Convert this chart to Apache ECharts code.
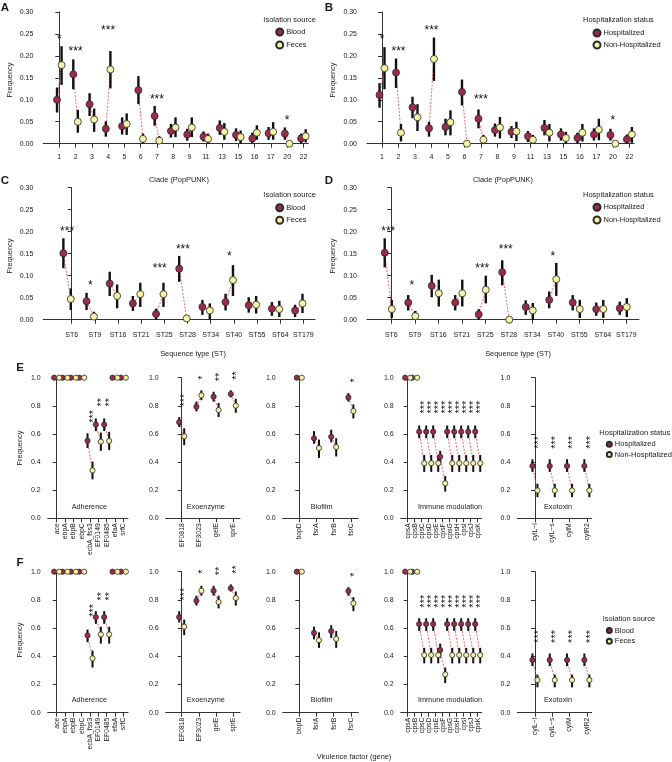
<!DOCTYPE html>
<html><head><meta charset="utf-8">
<script src="https://cdn.jsdelivr.net/npm/echarts@6/dist/echarts.min.js"></script>
<style>html,body{margin:0;padding:0;background:#fff}#c{width:672px;height:762px}</style>
</head><body><div id="c"></div>
<script>
// ---------------- DATA ----------------
const cladeLabels = ['1','2','3','4','5','6','7','8','9','11','13','15','16','17','20','22'];
const stLabels = ['ST6','ST9','ST16','ST21','ST25','ST28','ST34','ST40','ST55','ST64','ST179'];

// Panel A: clade by isolation source
const A_blood    = [0.100,0.158,0.090,0.034,0.040,0.122,0.063,0.029,0.021,0.016,0.036,0.020,0.012,0.024,0.023,0.012];
const A_blood_lo = [0.071,0.124,0.063,0.016,0.021,0.090,0.041,0.014,0.007,0.005,0.020,0.006,0.001,0.009,0.009,0.001];
const A_blood_hi = [0.128,0.192,0.115,0.051,0.060,0.154,0.086,0.045,0.034,0.028,0.053,0.035,0.025,0.038,0.037,0.023];
const A_feces    = [0.179,0.050,0.055,0.169,0.045,0.011,0.007,0.037,0.037,0.011,0.027,0.015,0.025,0.027,0.000,0.017];
const A_feces_lo = [0.134,0.025,0.027,0.126,0.020,0.000,0.000,0.015,0.015,0.000,0.009,0.000,0.009,0.009,0.000,0.003];
const A_feces_hi = [0.222,0.077,0.080,0.211,0.069,0.023,0.017,0.060,0.060,0.023,0.047,0.030,0.042,0.049,0.000,0.033];
const A_sig = ['*','***','','***','','','***','','','','','','','','*',''];

// Panel B: clade by hospitalization status
const B_hosp     = [0.111,0.162,0.083,0.035,0.038,0.118,0.057,0.031,0.027,0.017,0.036,0.021,0.013,0.021,0.020,0.010];
const B_hosp_lo  = [0.082,0.127,0.058,0.016,0.019,0.087,0.035,0.016,0.013,0.004,0.019,0.007,0.001,0.007,0.007,0.000];
const B_hosp_hi  = [0.138,0.194,0.107,0.050,0.057,0.146,0.078,0.046,0.040,0.029,0.054,0.035,0.025,0.035,0.034,0.021];
const B_non      = [0.172,0.025,0.060,0.193,0.049,0.000,0.009,0.037,0.028,0.009,0.025,0.013,0.025,0.032,0.000,0.021];
const B_non_lo   = [0.124,0.005,0.029,0.143,0.019,0.000,0.000,0.012,0.006,0.000,0.005,0.000,0.005,0.008,0.000,0.002];
const B_non_hi   = [0.220,0.045,0.090,0.242,0.076,0.000,0.020,0.061,0.050,0.020,0.045,0.027,0.045,0.057,0.000,0.038];
const B_sig = ['*','***','','***','','','***','','','','','','','','*',''];

// Panel C: ST by isolation source
const C_blood    = [0.151,0.042,0.082,0.037,0.013,0.116,0.029,0.040,0.033,0.025,0.021];
const C_blood_lo = [0.117,0.022,0.054,0.020,0.000,0.086,0.011,0.021,0.016,0.009,0.006];
const C_blood_hi = [0.185,0.061,0.109,0.054,0.025,0.145,0.045,0.059,0.051,0.040,0.034];
const C_feces    = [0.047,0.007,0.054,0.058,0.058,0.003,0.021,0.090,0.034,0.024,0.037];
const C_feces_lo = [0.022,0.000,0.026,0.029,0.029,0.003,0.000,0.054,0.014,0.006,0.015];
const C_feces_hi = [0.071,0.018,0.080,0.084,0.084,0.003,0.037,0.124,0.054,0.043,0.059];
const C_sig = ['***','*','','','***','***','','*','','',''];

// Panel D: ST by hospitalization status
const D_hosp     = [0.152,0.039,0.077,0.039,0.012,0.108,0.029,0.045,0.039,0.024,0.026];
const D_hosp_lo  = [0.119,0.021,0.051,0.021,0.000,0.078,0.011,0.026,0.021,0.009,0.011];
const D_hosp_hi  = [0.185,0.056,0.102,0.056,0.024,0.135,0.044,0.064,0.056,0.039,0.041];
const D_non      = [0.024,0.008,0.060,0.060,0.068,0.000,0.021,0.092,0.024,0.024,0.029];
const D_non_lo   = [0.004,0.000,0.030,0.030,0.037,0.000,0.000,0.054,0.004,0.004,0.006];
const D_non_hi   = [0.045,0.020,0.091,0.091,0.100,0.000,0.038,0.129,0.045,0.045,0.049];
const D_sig = ['***','*','','','***','***','','*','','',''];

// Panels E/F: virulence factor genes, values as [frequency, lower, upper]
const adhGenes = ['ace','ebpA','ebpB','ebpC','ecbA_fss3','EF0149','EF0485','efaA','srfC'];
const exoGenes = ['EF0818','EF3023','gelE','sprE'];
const bioGenes = ['bopD','fsrA','fsrB','fsrC'];
const immGenes = ['cpsA','cpsB','cpsC','cpsD','cpsE','cpsF','cpsG','cpsH','cpsI','cpsJ','cpsK'];
const toxGenes = ['cylL\u2212l','cylL\u2212s','cylM','cylR2'];

const adhSig = ['','','','','***','**','**','',''];
const exoSig = ['***','*','**','**'];
const bioSig = ['','','','*'];
const immSig = ['','','***','***','***','***','***','***','***','***','***'];
const toxSig = ['***','***','***','***'];

const E_adh_hosp = [[1,1,1],[1,1,1],[1,1,1],[1,1,1],[0.552,0.500,0.605],[0.667,0.620,0.710],[0.667,0.620,0.710],[1,1,1],[1,1,1]];
const E_adh_non  = [[1,1,1],[1,1,1],[1,1,1],[1,1,1],[0.341,0.277,0.403],[0.545,0.480,0.610],[0.550,0.485,0.615],[1,1,1],[1,1,1]];
const E_exo_hosp = [[0.683,0.650,0.720],[0.794,0.760,0.830],[0.865,0.830,0.900],[0.884,0.860,0.910]];
const E_exo_non  = [[0.583,0.520,0.640],[0.875,0.840,0.910],[0.770,0.720,0.820],[0.801,0.750,0.850]];
const E_bio_hosp = [[1,1,1],[0.569,0.530,0.620],[0.580,0.540,0.630],[0.860,0.830,0.890]];
const E_bio_non  = [[1,1,1],[0.500,0.430,0.560],[0.507,0.440,0.570],[0.763,0.710,0.810]];
const E_imm_hosp = [[1,1,1],[1,1,1],[0.616,0.570,0.660],[0.616,0.570,0.660],[0.616,0.570,0.660],[0.438,0.390,0.480],[0.616,0.570,0.660],[0.616,0.570,0.660],[0.616,0.570,0.660],[0.616,0.570,0.660],[0.616,0.570,0.660]];
const E_imm_non  = [[1,1,1],[1,1,1],[0.392,0.330,0.450],[0.392,0.330,0.450],[0.392,0.330,0.450],[0.249,0.190,0.300],[0.392,0.330,0.450],[0.392,0.330,0.450],[0.392,0.330,0.450],[0.392,0.330,0.450],[0.392,0.330,0.450]];
const E_tox_hosp = [[0.372,0.330,0.420],[0.372,0.330,0.420],[0.372,0.330,0.420],[0.372,0.330,0.420]];
const E_tox_non  = [[0.198,0.150,0.245],[0.198,0.150,0.245],[0.198,0.150,0.245],[0.198,0.150,0.245]];

const F_adh_blood = [[1,1,1],[1,1,1],[1,1,1],[1,1,1],[0.548,0.500,0.590],[0.678,0.630,0.720],[0.678,0.630,0.720],[1,1,1],[1,1,1]];
const F_adh_feces = [[1,1,1],[1,1,1],[1,1,1],[1,1,1],[0.385,0.320,0.440],[0.555,0.490,0.610],[0.555,0.490,0.610],[1,1,1],[1,1,1]];
const F_exo_blood = [[0.678,0.640,0.720],[0.794,0.760,0.830],[0.865,0.830,0.900],[0.882,0.860,0.910]];
const F_exo_feces = [[0.610,0.550,0.660],[0.865,0.830,0.900],[0.785,0.740,0.830],[0.813,0.760,0.860]];
const F_bio_blood = [[1,1,1],[0.566,0.520,0.610],[0.579,0.530,0.620],[0.863,0.830,0.890]];
const F_bio_feces = [[1,1,1],[0.514,0.460,0.570],[0.523,0.460,0.580],[0.776,0.720,0.820]];
const F_imm_blood = [[1,1,1],[1,1,1],[0.629,0.580,0.670],[0.629,0.580,0.670],[0.629,0.580,0.670],[0.444,0.390,0.490],[0.629,0.580,0.670],[0.629,0.580,0.670],[0.629,0.580,0.670],[0.629,0.580,0.670],[0.629,0.580,0.670]];
const F_imm_feces = [[1,1,1],[1,1,1],[0.409,0.350,0.460],[0.409,0.350,0.460],[0.409,0.350,0.460],[0.272,0.210,0.320],[0.409,0.350,0.460],[0.409,0.350,0.460],[0.409,0.350,0.460],[0.409,0.350,0.460],[0.409,0.350,0.460]];
const F_tox_blood = [[0.374,0.330,0.420],[0.374,0.330,0.420],[0.374,0.330,0.420],[0.374,0.330,0.420]];
const F_tox_feces = [[0.232,0.180,0.270],[0.232,0.180,0.270],[0.232,0.180,0.270],[0.232,0.180,0.270]];

// ---------------- BUILD ----------------
const FONT = "'Liberation Sans', Arial, Helvetica, sans-serif";
const COL_A = '#9c2a4b', COL_B = '#f6f3a3', EDGE = '#2a2a2a', AX = '#333';
const grids = [], xAxes = [], yAxes = [], series = [];
const zip3 = (v, lo, hi) => v.map((x, i) => [x, lo[i], hi[i]]);
const maxHi = (...arrs) => arrs[0].map((_, i) => Math.max(...arrs.map(a => a[i][2])));

function panel(o) {
  const gi = grids.length;
  const idx = o.labels.map((_, i) => i);
  grids.push({left: o.left, top: o.top, width: o.width, height: o.height});
  xAxes.push({type: 'value', gridIndex: gi, min: o.xmin, max: o.xmax,
    axisLine: {show: true, onZero: false, lineStyle: {color: AX, width: 1}},
    axisTick: {show: true, customValues: idx, length: 4, lineStyle: {color: AX}},
    axisLabel: {customValues: idx, formatter: v => o.labels[Math.round(v)] || '', fontSize: o.xfs, color: '#222',
      fontFamily: FONT, margin: o.xmargin, rotate: o.rot || 0, hideOverlap: false},
    splitLine: {show: false}});
  yAxes.push({type: 'value', gridIndex: gi, min: o.ymin, max: o.ymax, interval: o.yint,
    axisLine: {show: true, lineStyle: {color: AX, width: 1}},
    axisTick: {show: true, length: 4, lineStyle: {color: AX}},
    axisLabel: {formatter: v => v.toFixed(o.ydec), fontSize: 7, color: '#222', fontFamily: FONT, margin: o.ymargin},
    splitLine: {show: false}});
  const dA = o.c - o.d, dB = o.c + o.d;
  // dashed connector
  series.push({type: 'custom', xAxisIndex: gi, yAxisIndex: gi, z: 2, silent: true,
    data: idx.map(i => [i + dA, o.A[i][0], i + dB, o.B[i][0]]),
    encode: {x: [0, 2], y: [1, 3]},
    renderItem: (p, api) => {
      const a = api.coord([api.value(0), api.value(1)]), b = api.coord([api.value(2), api.value(3)]);
      return {type: 'line', shape: {x1: a[0], y1: a[1], x2: b[0], y2: b[1]},
        style: {stroke: '#f0525a', lineWidth: 0.9, lineDash: [2, 1.5]}};
    }});
  // error bars
  const bars = [];
  idx.forEach(i => { bars.push([i + dA, o.A[i][1], o.A[i][2]]); bars.push([i + dB, o.B[i][1], o.B[i][2]]); });
  series.push({type: 'custom', xAxisIndex: gi, yAxisIndex: gi, z: 3, silent: true,
    data: bars, encode: {x: 0, y: [1, 2]},
    renderItem: (p, api) => {
      const lo = api.value(1), hi = api.value(2);
      if (!(hi - lo > 0)) return null;
      const a = api.coord([api.value(0), lo]), b = api.coord([api.value(0), hi]);
      return {type: 'line', shape: {x1: a[0], y1: a[1], x2: b[0], y2: b[1]},
        style: {stroke: '#111', lineWidth: o.bw}};
    }});
  // points
  series.push({type: 'scatter', name: o.nameA, xAxisIndex: gi, yAxisIndex: gi, z: 4,
    symbol: 'circle', symbolSize: o.ms, data: idx.map(i => [i + dA, o.A[i][0]]),
    itemStyle: {color: COL_A, borderColor: EDGE, borderWidth: 0.8, opacity: 1}});
  series.push({type: 'scatter', name: o.nameB, xAxisIndex: gi, yAxisIndex: gi, z: 5,
    symbol: 'circle', symbolSize: o.ms, data: idx.map(i => [i + dB, o.B[i][0]]),
    itemStyle: {color: COL_B, borderColor: EDGE, borderWidth: 0.8, opacity: 1}});
  // significance stars
  const stars = [];
  o.sig.forEach((s, i) => { if (s) stars.push([i + o.c, o.starBase[i] + o.starOff, s]); });
  const fs = o.sfs;
  series.push({type: 'custom', xAxisIndex: gi, yAxisIndex: gi, z: 6, silent: true,
    data: stars.map(s => [s[0], s[1]]), encode: {x: 0, y: 1},
    renderItem: (p, api) => {
      const pt = api.coord([api.value(0), api.value(1)]);
      const t = stars[p.dataIndex][2];
      if (o.vert) {
        return {type: 'text', x: pt[0] + 0.25 * fs + 1, y: pt[1], rotation: Math.PI / 2,
          style: {text: t, x: 0, y: 0, align: 'left', verticalAlign: 'middle', fontSize: fs, fontFamily: FONT, fill: '#111'}};
      }
      return {type: 'text', x: pt[0], y: pt[1] + 0.25 * fs,
        style: {text: t, x: 0, y: 0, align: 'center', verticalAlign: 'middle', fontSize: fs, fontFamily: FONT, fill: '#111'}};
    }});
}

// A-D
const Aa = zip3(A_blood, A_blood_lo, A_blood_hi), Ab = zip3(A_feces, A_feces_lo, A_feces_hi);
const Ba = zip3(B_hosp, B_hosp_lo, B_hosp_hi), Bb = zip3(B_non, B_non_lo, B_non_hi);
const Ca = zip3(C_blood, C_blood_lo, C_blood_hi), Cb = zip3(C_feces, C_feces_lo, C_feces_hi);
const Da = zip3(D_hosp, D_hosp_lo, D_hosp_hi), Db = zip3(D_non, D_non_lo, D_non_hi);
const starAB = maxHi(Aa, Ab, Ba, Bb), starCD = maxHi(Ca, Cb, Da, Db);
const topCommon = {ymin: 0, ymax: 0.3, yint: 0.05, ydec: 2, ymargin: 10, xfs: 7, ms: 7, bw: 2.4, sfs: 12, starOff: 0.022, vert: false};

panel(Object.assign({}, topCommon, {left: 43.3, top: 12, width: 265, height: 131.7, xmin: -0.983, xmax: 15.3,
  labels: cladeLabels, A: Aa, B: Ab, nameA: 'Blood', nameB: 'Feces', sig: A_sig, starBase: starAB, c: 0, d: 0.14, xmargin: 10}));
panel(Object.assign({}, topCommon, {left: 367, top: 12, width: 267, height: 131.7, xmin: -0.91, xmax: 15.28,
  labels: cladeLabels, A: Ba, B: Bb, nameA: 'Hospitalized', nameB: 'Non-Hospitalized', sig: B_sig, starBase: starAB, c: 0, d: 0.15, xmargin: 10}));
panel(Object.assign({}, topCommon, {left: 43.3, top: 187.7, width: 271.7, height: 132, xmin: -1.226, xmax: 10.5,
  labels: stLabels, A: Ca, B: Cb, nameA: 'Blood', nameB: 'Feces', sig: C_sig, starBase: starCD, c: -0.2, d: 0.16, xmargin: 12}));
panel(Object.assign({}, topCommon, {left: 367, top: 187.7, width: 272, height: 132, xmin: -1.034, xmax: 10.54,
  labels: stLabels, A: Da, B: Db, nameA: 'Hospitalized', nameB: 'Non-Hospitalized', sig: D_sig, starBase: starCD, c: -0.13, d: 0.15, xmargin: 12}));

// E-F (the cps operon genes share one annotation level)
const subs = [
  {left: 47.7, width: 80.3, xmin: -1.08, xmax: 8.56, labels: adhGenes, sig: adhSig, d: 0.30, E: [E_adh_hosp, E_adh_non], F: [F_adh_blood, F_adh_feces]},
  {left: 165.7, width: 74.3, xmin: -0.93, xmax: 3.39, labels: exoGenes, sig: exoSig, d: 0.145, E: [E_exo_hosp, E_exo_non], F: [F_exo_blood, F_exo_feces]},
  {left: 282.7, width: 75.6, xmin: -0.965, xmax: 3.43, labels: bioGenes, sig: bioSig, d: 0.145, E: [E_bio_hosp, E_bio_non], F: [F_bio_blood, F_bio_feces]},
  {left: 400.7, width: 81, xmin: -1.0, xmax: 10.57, labels: immGenes, sig: immSig, d: 0.36, shared: true, E: [E_imm_hosp, E_imm_non], F: [F_imm_blood, F_imm_feces]},
  {left: 517.3, width: 74.4, xmin: -1.02, xmax: 3.28, labels: toxGenes, sig: toxSig, d: 0.145, shared: true, E: [E_tox_hosp, E_tox_non], F: [F_tox_blood, F_tox_feces]}
];
const botCommon = {ymin: 0, ymax: 1, yint: 0.2, ydec: 1, ymargin: 7, xfs: 6.8, ms: 5.2, bw: 2, sfs: 11, starOff: 0.075, vert: true, rot: 90, xmargin: 5, c: 0};
subs.forEach(s => {
  let base = maxHi(s.E[0], s.E[1], s.F[0], s.F[1]);
  if (s.shared) {
    const m = Math.max(...base.filter((_, i) => s.sig[i]));
    base = base.map(() => m);
  }
  panel(Object.assign({}, botCommon, {left: s.left, width: s.width, top: 377.7, height: 140.6, xmin: s.xmin, xmax: s.xmax,
    labels: s.labels, sig: s.sig, d: s.d, A: s.E[0], B: s.E[1], nameA: 'Hospitalized', nameB: 'Non-Hospitalized', starBase: base}));
  panel(Object.assign({}, botCommon, {left: s.left, width: s.width, top: 571.7, height: 141, xmin: s.xmin, xmax: s.xmax,
    labels: s.labels, sig: s.sig, d: s.d, A: s.F[0], B: s.F[1], nameA: 'Blood', nameB: 'Feces', starBase: base}));
});

// ---------------- TEXT / LEGENDS ----------------
function txt(x, y, text, size, opts) {
  opts = opts || {};
  return {type: 'text', x: x, y: y, rotation: opts.rot || 0, silent: true,
    style: {text: text, x: 0, y: 0, align: opts.align || 'center', verticalAlign: 'middle',
      fontSize: size, fontWeight: opts.bold ? 'bold' : 'normal', fontFamily: FONT, fill: opts.fill || '#1a1a1a'}};
}
const graphics = [
  txt(5, 8, 'A', 11.5, {bold: true}), txt(329, 8, 'B', 11.5, {bold: true}),
  txt(5, 181, 'C', 11.5, {bold: true}), txt(329, 181, 'D', 11.5, {bold: true}),
  txt(20, 367.5, 'E', 11.5, {bold: true}), txt(20, 562.5, 'F', 11.5, {bold: true}),
  txt(179, 180, 'Clade (PopPUNK)', 7.4), txt(503, 179.5, 'Clade (PopPUNK)', 7.4),
  txt(193, 354, 'Sequence type (ST)', 7.4), txt(518, 354, 'Sequence type (ST)', 7.4),
  txt(354, 757, 'Virulence factor (gene)', 7.4),
  txt(10, 80, 'Frequency', 7.4, {rot: Math.PI / 2}), txt(333, 80, 'Frequency', 7.4, {rot: Math.PI / 2}),
  txt(10, 256, 'Frequency', 7.4, {rot: Math.PI / 2}), txt(333, 256, 'Frequency', 7.4, {rot: Math.PI / 2}),
  txt(20, 448, 'Frequency', 7.4, {rot: Math.PI / 2}), txt(20, 640, 'Frequency', 7.4, {rot: Math.PI / 2}),
  txt(263.3, 19.5, 'Isolation source', 7.5, {align: 'left'}),
  txt(583, 19.7, 'Hospitalization status', 7.5, {align: 'left'}),
  txt(263.3, 195.3, 'Isolation source', 7.5, {align: 'left'}),
  txt(583, 194.7, 'Hospitalization status', 7.5, {align: 'left'}),
  txt(599.3, 432.7, 'Hospitalization status', 7.5, {align: 'left'}),
  txt(602.7, 619.3, 'Isolation source', 7.5, {align: 'left'})
];
[506.7, 700].forEach(y => {
  graphics.push(txt(89.3, y, 'Adherence', 7.3), txt(205.8, y, 'Exoenzyme', 7.3), txt(321.7, y, 'Biofilm', 7.3),
    txt(450, y, 'Immune modulation', 7.3), txt(558, y, 'Exotoxin', 7.3));
});

function lg(left, top, names, size, gap) {
  return {orient: 'vertical', left: left, top: top, padding: 0, itemWidth: size, itemHeight: size, itemGap: gap,
    icon: 'circle', data: names, selectedMode: false,
    textStyle: {fontSize: 7.5, fontFamily: FONT, color: '#1a1a1a', padding: [0, 0, 0, -2]}};
}
const legends = [
  lg(275.2, 27.5, ['Blood', 'Feces'], 7, 4),
  lg(592.5, 28.5, ['Hospitalized', 'Non-Hospitalized'], 7, 3),
  lg(275.2, 203.2, ['Blood', 'Feces'], 7, 3.6),
  lg(592.5, 202.8, ['Hospitalized', 'Non-Hospitalized'], 7, 3.7),
  lg(605.8, 440.2, ['Hospitalized', 'Non-Hospitalized'], 5, 2.3),
  lg(605.8, 626.5, ['Blood', 'Feces'], 5, 2.7)
];

const chart = echarts.init(document.getElementById('c'), null, {renderer: 'canvas'});
chart.setOption({
  backgroundColor: '#ffffff', animation: false,
  textStyle: {fontFamily: FONT},
  grid: grids, xAxis: xAxes, yAxis: yAxes, series: series,
  legend: legends, graphic: graphics
});
</script></body></html>
